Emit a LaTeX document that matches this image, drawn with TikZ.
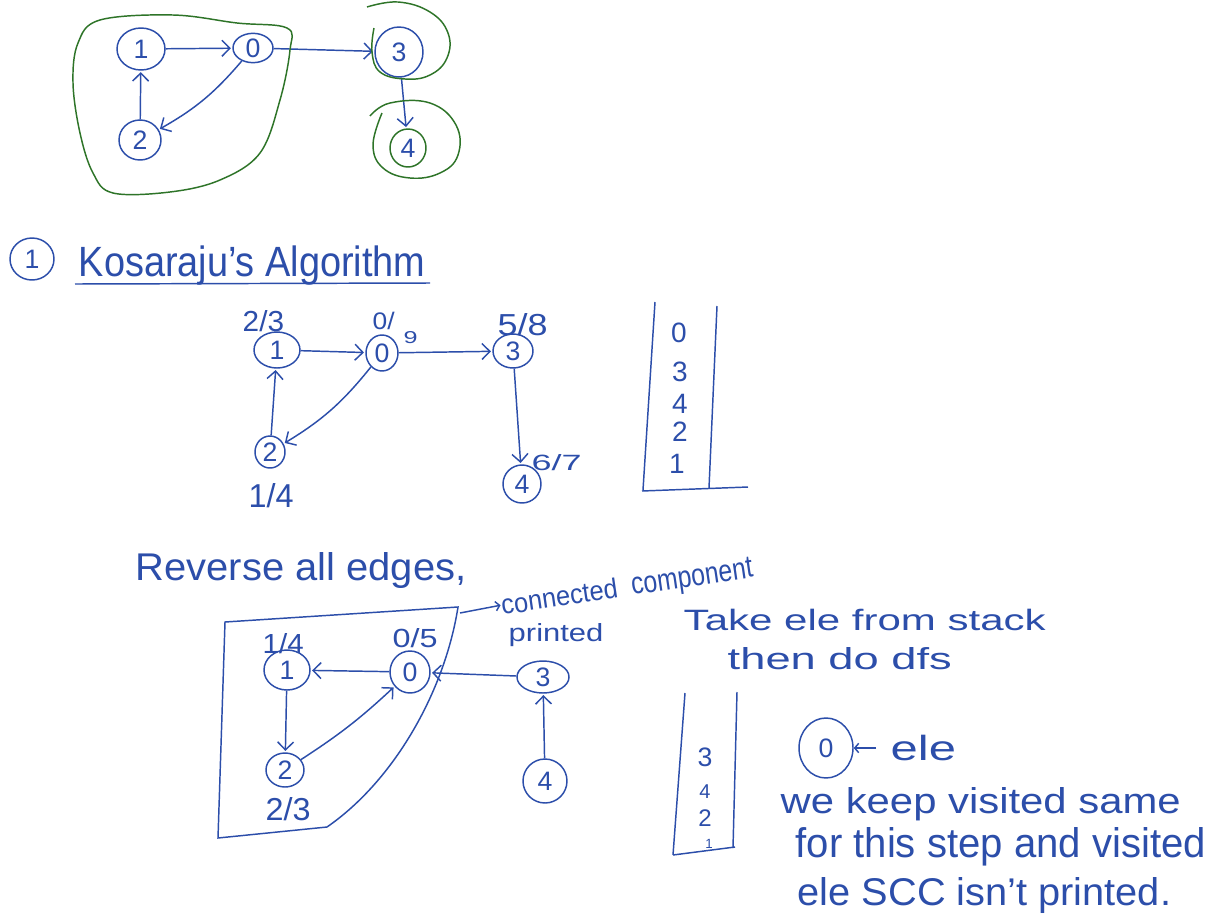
\documentclass[tikz,border=0pt]{standalone}
\usepackage{fontspec}
\setmainfont{Liberation Sans}
\usepackage{graphicx}
\usetikzlibrary{arrows.meta,shapes.geometric}
\definecolor{ink}{RGB}{44,78,170}
\definecolor{leaf}{RGB}{46,116,40}
\newcommand\hw[3]{\resizebox{#1pt}{#2pt}{#3}}
\begin{document}
\begin{tikzpicture}[x=0.75pt,y=-0.75pt,line width=1.1pt,color=ink,
  vx/.style n args={2}{ellipse,draw=ink,text=ink,minimum width=#1,minimum height=#2,inner sep=0pt,font=\fontsize{20}{20}\selectfont},
  lbl/.style={anchor=base west,inner sep=0pt,text=ink},
  edge/.style={draw=ink,-{Straight Barb[length=6pt,width=12pt]},shorten >=1pt},
  small edge/.style={draw=ink,-{Straight Barb[length=3pt,width=7pt]}},
  hull/.style={draw=leaf,line width=1.1pt},
  digit/.style={text=ink,inner sep=0pt,font=\fontsize{21}{21}\selectfont}]
\fill[white] (0,0) rectangle (1217,921);
\useasboundingbox (0,0) rectangle (1217,921);

% ---------- top graph ----------
\node[vx={36pt}{31.5pt}] (t1) at (141,49) {1};
\node[vx={30pt}{22pt}] (t0) at (253,48) {0};
\node[vx={36pt}{37.5pt}] (t3) at (399,52) {3};
\node[vx={31.5pt}{30pt}] (t2) at (140,140) {2};
\node[vx={27pt}{28.5pt},draw=leaf] (t4) at (408,148) {4};
\draw[edge] (t1) -- (t0);
\draw[edge] (t0) -- (t3);
\draw[edge] (t0) to[bend left=10] (t2);
\draw[edge] (t2) -- (t1);
\draw[edge] (t3) -- (t4);
\draw[hull] plot[smooth cycle,tension=0.6] coordinates {(100,20) (173,15) (237,23) (287,28) (290,50) (280,100) (260,153) (220,180) (170,192) (113,193) (93,173) (80,133) (73,83) (78,43)};
\draw[hull] plot[smooth,tension=0.7] coordinates {(367,7) (398,2) (430,12) (448,33) (447,58) (430,75) (405,79) (380,72) (372,52) (374,28)};
\draw[hull] plot[smooth,tension=0.7] coordinates {(370,116) (390,103) (430,103) (456,125) (458,155) (440,173) (410,178) (383,168) (373,145) (382,113)};

% ---------- heading ----------
\node[ellipse,draw,minimum width=33pt,minimum height=31.5pt,inner sep=0pt,font=\fontsize{20}{20}\selectfont] (sec) at (32,259) {1};
\node[lbl] (title) at (78,276) {\hw{260}{23}{Kosaraju's Algorithm}};
\coordinate (ul1) at (75,284);
\coordinate (ul2) at (430,283);
\draw (ul1) -- (ul2);

% ---------- middle graph ----------
\node[vx={34.5pt}{27pt}] (m1) at (277,350) {1};
\node[vx={24pt}{27pt}] (m0) at (382,353) {0};
\node[vx={30pt}{25.5pt}] (m3) at (513,351) {3};
\node[vx={22.5pt}{24pt}] (m2) at (270,452) {2};
\node[vx={28.5pt}{28.5pt}] (m4) at (522,484) {4};
\node[lbl] (lm1) at (242,331) {\hw{31}{15.75}{2/3}};
\node[lbl] (lm0) at (372,329) {\hw{16.5}{13}{0/}};
\node[lbl] (lm0b) at (403,343) {\hw{10.5}{9}{9}};
\node[lbl] (lm3) at (497,335) {\hw{37.5}{16.5}{5/8}};
\node[lbl] (lm4) at (531,470) {\hw{37.5}{12}{6/7}};
\node[lbl] (lm2) at (248,507) {\hw{33.75}{18}{1/4}};
\draw[edge] (m1) -- (m0);
\draw[edge] (m0) -- (m3);
\draw[edge] (m0) to[bend left=10] (m2);
\draw[edge] (m2) -- (m1);
\draw[edge] (m3) -- (m4);

% ---------- stack 1 ----------
\coordinate (s1a) at (655,302);
\coordinate (s1b) at (643,490);
\coordinate (s1c) at (717,306);
\coordinate (s1d) at (709,488);
\coordinate (s1e) at (642,491);
\coordinate (s1f) at (748,487);
\draw (s1a) -- (s1b);
\draw (s1c) -- (s1d);
\draw (s1e) -- (s1f);
\node[digit] (sa0) at (679,333) {0};
\node[digit] (sa3) at (680,372) {3};
\node[digit] (sa4) at (680,404) {4};
\node[digit] (sa2) at (680,432) {2};
\node[digit] (sa1) at (677,464) {1};

% ---------- reversed graph ----------
\node[lbl] (rev) at (135,580) {\hw{248}{21}{Reverse all edges,}};
\coordinate (b1) at (225,622);
\coordinate (b2) at (458,607);
\coordinate (b3) at (327,827);
\coordinate (b4) at (218,838);
\draw (b3) -- (b4) -- (b1) -- (b2) .. controls (445,690) and (395,780) .. (b3);
\node[lbl,rotate=8.4] (cc1) at (502,615) {\hw{88}{15}{connected}};
\node[lbl,rotate=8.4] (cc2) at (632,595) {\hw{92}{15}{component}};
\node[lbl] (pr) at (508,641) {\hw{71}{13.5}{printed}};
\coordinate (ccs) at (460,613);
\draw[small edge] (ccs) -- (cc1.west);

\node[vx={34.5pt}{30pt}] (r1) at (287,670) {1};
\node[vx={30pt}{31.5pt}] (r0) at (410,672) {0};
\node[vx={39pt}{24pt}] (r3) at (543,677) {3};
\node[vx={28.5pt}{25.5pt}] (r2) at (285,770) {2};
\node[vx={33pt}{33pt}] (r4) at (545,781) {4};
\node[lbl] (lr1) at (262,653) {\hw{30.75}{15}{1/4}};
\node[lbl] (lr0) at (392,647) {\hw{33.75}{14.25}{0/5}};
\node[lbl] (lr2) at (265,820) {\hw{33.75}{17.25}{2/3}};
\draw[edge] (r0) -- (r1);
\draw[edge] (r3) -- (r0);
\draw[edge] (r1) -- (r2);
\draw[edge] (r2) to[bend right=5] (r0);
\draw[edge] (r4) -- (r3);

% ---------- right side ----------
\node[lbl] (take) at (683,630) {\hw{271.5}{16}{Take ele from stack}};
\node[lbl] (then) at (727,669) {\hw{168}{16.5}{then do dfs}};
\coordinate (s2a) at (685,693);
\coordinate (s2b) at (673,855);
\coordinate (s2c) at (737,692);
\coordinate (s2d) at (733,848);
\coordinate (s2e) at (735,847);
\draw (s2a) -- (s2b);
\draw (s2c) -- (s2d);
\draw (s2b) -- (s2e);
\node[digit,font=\fontsize{20}{20}\selectfont] (sb3) at (705,757) {3};
\node[digit,font=\fontsize{15}{15}\selectfont] (sb4) at (705,792) {4};
\node[digit,font=\fontsize{18}{18}\selectfont] (sb2) at (705,818) {2};
\node[digit,font=\fontsize{10}{10}\selectfont] (sb1) at (709,844) {1};

\node[vx={40.5pt}{45pt}] (c0) at (826,748) {0};
\node[lbl] (ele) at (890,760) {\hw{49}{19}{ele}};
\coordinate (ea) at (876,748);
\draw[small edge] (ea) -- (c0.east);
\node[lbl] (w1) at (780,813) {\hw{300}{19.5}{we keep visited same}};
\node[lbl] (w2) at (795,857) {\hw{307.5}{22.5}{for this step and visited}};
\node[lbl] (w3) at (797,905) {\hw{280}{21}{ele SCC isn't printed.}};
\end{tikzpicture}
\end{document}
